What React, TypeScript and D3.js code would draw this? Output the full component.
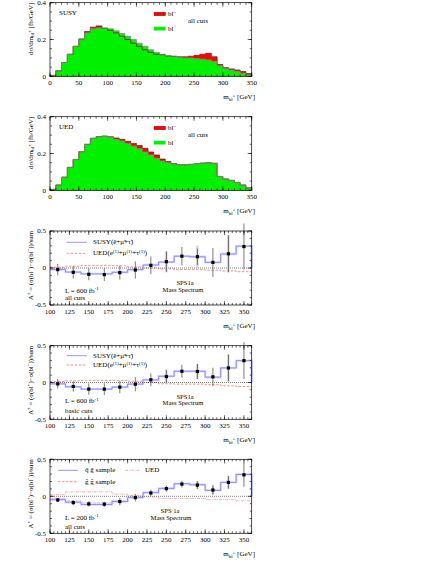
import React from 'react';
import * as d3 from 'd3';

// ---------- data ----------
const histEdges = [0,10,20,30,40,50,60,70,80,90,100,110,120,130,140,150,160,170,180,190,200,210,220,230,240,250,260,270,280,290,300,310,320,330,340];
const susyBlPlus = [0.005,0.03,0.075,0.12,0.163,0.203,0.236,0.258,0.263,0.263,0.258,0.247,0.232,0.217,0.2,0.18,0.163,0.144,0.13,0.12,0.113,0.11,0.104,0.1,0.099,0.096,0.093,0.089,0.08,0.057,0.042,0.034,0.027,0.016,0.008];
const susyBlMinus = [0.005,0.03,0.075,0.12,0.163,0.203,0.243,0.267,0.274,0.261,0.25,0.236,0.217,0.2,0.18,0.163,0.144,0.13,0.12,0.117,0.111,0.108,0.106,0.106,0.109,0.114,0.12,0.125,0.106,0.064,0.047,0.04,0.034,0.026,0.015];
const uedBlPlus = [0.005,0.029,0.07,0.123,0.167,0.21,0.25,0.282,0.291,0.293,0.288,0.277,0.268,0.255,0.24,0.226,0.208,0.192,0.174,0.159,0.15,0.143,0.139,0.139,0.141,0.145,0.148,0.15,0.147,0.075,0.062,0.054,0.043,0.029,0.014];
const uedBlMinus = [0.005,0.029,0.072,0.125,0.168,0.21,0.25,0.283,0.292,0.295,0.291,0.284,0.277,0.266,0.255,0.243,0.228,0.208,0.192,0.17,0.156,0.145,0.139,0.139,0.141,0.145,0.148,0.15,0.147,0.075,0.062,0.054,0.043,0.029,0.014];
const histTicks = [0,50,100,150,200,250,300,350];
const histYTicks = [0,0.2,0.4];

const asymEdges = [100,120,140,160,180,200,220,240,260,280,300,320,340];
const asymCenters = [110,130,150,170,190,210,230,250,270,290,310,330,350];
const asymTicks = [100,125,150,175,200,225,250,275,300,325,350];
const asymYTicks = [-0.5,0,0.5];

// panel 3: all cuts, L = 600
const p3Points = [-0.022,-0.058,-0.085,-0.089,-0.062,-0.027,0.036,0.085,0.16,0.152,0.076,0.192,0.29];
const p3Err = [0.078,0.083,0.08,0.085,0.094,0.116,0.12,0.136,0.125,0.11,0.194,0.25,0.31];
const p3Grey = [0,0,0,0,0,0,0,0.145,0,0.152,0,0.25,0];
const p3Susy = [-0.02,-0.055,-0.08,-0.08,-0.058,-0.022,0.04,0.08,0.16,0.152,0.076,0.19,0.295];
const p3Ued = [0.01,0.025,0.035,0.035,0.03,0.015,0.0,-0.012,-0.02,-0.022,-0.03,-0.04,-0.05];

// panel 4: basic cuts, L = 600
const p4Points = [-0.018,-0.054,-0.09,-0.09,-0.063,-0.023,0.036,0.081,0.153,0.149,0.077,0.198,0.297];
const p4Err = [0.065,0.07,0.077,0.079,0.083,0.097,0.088,0.088,0.088,0.1,0.124,0.18,0.25];
const p4Grey = [0,0,0,0,0,0,0,0.095,0,0.105,0,0.185,0];
const p4Susy = [-0.018,-0.058,-0.09,-0.09,-0.063,-0.022,0.036,0.085,0.153,0.153,0.072,0.198,0.297];
const p4Ued = [0.013,0.022,0.03,0.03,0.03,0.018,0.0,-0.018,-0.022,-0.022,-0.03,-0.045,-0.054];

// panel 5: all cuts, L = 200
const p5Points = [-0.05,-0.085,-0.103,-0.107,-0.071,-0.018,0.045,0.103,0.165,0.152,0.085,0.188,0.29];
const p5Err = [0.03,0.035,0.035,0.035,0.05,0.05,0.045,0.04,0.045,0.05,0.06,0.085,0.16];
const p5Grey = [0,0,0,0,0,0,0,0,0,0.055,0.065,0.085,0];
const p5Qg = [-0.045,-0.08,-0.11,-0.11,-0.071,-0.018,0.05,0.107,0.17,0.156,0.08,0.188,0.295];
const p5Gg = [-0.027,-0.063,-0.09,-0.09,-0.058,-0.01,0.054,0.1,0.16,0.152,0.09,0.19,0.3];
const p5Ued = [0.022,0.06,0.06,0.06,0.03,0.01,-0.01,-0.03,-0.03,-0.03,-0.045,-0.045,-0.06];

// ---------- styling ----------
const FONT = "'Liberation Serif', 'Times New Roman', serif";
const XL = 50;
const XR = 251.7;
const BLUE = '#7878ff';
const BLUE_BAND = '#dcdcff';
const RED_DASH = '#ff7070';
const UED_DOT = '#ff9a9a';

function Frame({ x, y, xTicks, xMinor, yTicks, yMinor, fmtY }: any) {
  const [top, bottom] = [y.range()[1], y.range()[0]];
  const major = 4, minor = 2;
  const els: any[] = [];
  xMinor.forEach((v: number, i: number) => {
    const px = x(v);
    els.push(<line key={'xm' + i} x1={px} x2={px} y1={bottom} y2={bottom - minor} stroke="#000" strokeWidth={0.6} />);
    els.push(<line key={'xmt' + i} x1={px} x2={px} y1={top} y2={top + minor} stroke="#000" strokeWidth={0.6} />);
  });
  xTicks.forEach((v: number, i: number) => {
    const px = x(v);
    els.push(<line key={'xM' + i} x1={px} x2={px} y1={bottom} y2={bottom - major} stroke="#000" strokeWidth={0.6} />);
    els.push(<line key={'xMt' + i} x1={px} x2={px} y1={top} y2={top + major} stroke="#000" strokeWidth={0.6} />);
    els.push(<text key={'xl' + i} x={px} y={bottom + 9} fontSize={7} textAnchor="middle" fontFamily={FONT}>{v}</text>);
  });
  yMinor.forEach((v: number, i: number) => {
    const py = y(v);
    els.push(<line key={'ym' + i} x1={XL} x2={XL + minor} y1={py} y2={py} stroke="#000" strokeWidth={0.6} />);
    els.push(<line key={'ymr' + i} x1={XR} x2={XR - minor} y1={py} y2={py} stroke="#000" strokeWidth={0.6} />);
  });
  yTicks.forEach((v: number, i: number) => {
    const py = y(v);
    els.push(<line key={'yM' + i} x1={XL} x2={XL + major} y1={py} y2={py} stroke="#000" strokeWidth={0.6} />);
    els.push(<line key={'yMr' + i} x1={XR} x2={XR - major} y1={py} y2={py} stroke="#000" strokeWidth={0.6} />);
    els.push(<text key={'yl' + i} x={46} y={py + 2.4} fontSize={7} textAnchor="end" fontFamily={FONT}>{fmtY(v)}</text>);
  });
  return (
    <g>
      {els}
      <rect x={XL} y={top} width={XR - XL} height={bottom - top} fill="none" stroke="#000" strokeWidth={0.7} />
      <text x={255} y={bottom + 23} fontSize={7} textAnchor="end" fontFamily={FONT}>
        m<tspan fontSize={5} dy={1.5}>bl</tspan><tspan fontSize={5} dy={-3.5}>±</tspan><tspan dy={2}> [GeV]</tspan>
      </text>
    </g>
  );
}

function HistPanel({ top, bottom, title, plus, minus }: any) {
  const x = d3.scaleLinear().domain([0, 350]).range([XL, XR]);
  const y = d3.scaleLinear().domain([0, 0.4]).range([bottom, top]);
  const pts = (vals: number[]) => [[0, 0], ...histEdges.map((e, i) => [e, vals[i]]), [350, vals[vals.length - 1]], [350, 0]];
  const area = d3.area<number[]>().x(d => x(d[0])).y0(y(0)).y1(d => y(d[1])).curve(d3.curveStepAfter);
  const line = d3.line<number[]>().x(d => x(d[0])).y(d => y(d[1])).curve(d3.curveStepAfter);
  const xMinor = d3.range(0, 351, 10);
  const yMinor = d3.range(0, 0.401, 0.05);
  return (
    <g>
      <path d={area(pts(minus)) || ''} fill="#ff0000" />
      <path d={area(pts(plus)) || ''} fill="#00f000" />
      <path d={line(pts(minus)) || ''} fill="none" stroke="#6a2a1a" strokeWidth={0.8} />
      <path d={line(pts(plus)) || ''} fill="none" stroke="#8a8a8a" strokeWidth={0.8} />
      <Frame x={x} y={y} xTicks={histTicks} xMinor={xMinor} yTicks={histYTicks} yMinor={yMinor} fmtY={(v: number) => (v === 0 ? '0' : v.toFixed(1))} />
      <text x={59} y={top + 10} fontSize={7} fontFamily={FONT} dominantBaseline="central">{title}</text>
      <rect x={154} y={top + 9.5} width={11.5} height={3.6} fill="#ff0000" stroke="#7a1010" strokeWidth={0.4} />
      <text x={168} y={top + 11.3} fontSize={7} fontFamily={FONT} dominantBaseline="central">bl<tspan fontSize={5} dy={-2.5}>−</tspan></text>
      <rect x={154} y={top + 24} width={11.5} height={3.8} fill="#00f000" />
      <text x={168} y={top + 25.8} fontSize={7} fontFamily={FONT} dominantBaseline="central">bl<tspan fontSize={5} dy={-2.5}>+</tspan></text>
      <text x={188} y={top + 18.2} fontSize={7} fontFamily={FONT} dominantBaseline="central">all cuts</text>
      <text transform={`translate(32.5, ${top}) rotate(-90)`} fontSize={7} textAnchor="end" fontFamily={FONT}>
        dσ/dm<tspan fontSize={5} dy={1.5}>bl</tspan><tspan fontSize={5} dy={-3.5}>±</tspan><tspan dy={2}> [fb/GeV]</tspan>
      </text>
    </g>
  );
}

function stepPts(vals: number[]) {
  return [...asymEdges.map((e, i) => [e, vals[i]]), [360, vals[vals.length - 1]]];
}

function AsymPanel({ top, bottom, points, err, grey, lines, children }: any) {
  const x = d3.scaleLinear().domain([100, 360]).range([XL, XR]);
  const y = d3.scaleLinear().domain([-0.5, 0.5]).range([bottom, top]);
  const line = d3.line<number[]>().x(d => x(d[0])).y(d => y(d[1])).curve(d3.curveStepAfter);
  const xMinor = d3.range(100, 361, 5);
  const yMinor = d3.range(-0.5, 0.501, 0.1);
  return (
    <g>
      {lines.map((l: any, i: number) => {
        const p = l.dropEnd ? [...stepPts(l.vals), [360, 0]] : stepPts(l.vals);
        return (
          <g key={i}>
            {l.band && <path d={line(p) || ''} fill="none" stroke={BLUE_BAND} strokeWidth={2.4} />}
            <path d={line(p) || ''} fill="none" stroke={l.color} strokeWidth={l.width || 0.8} strokeDasharray={l.dash || undefined} />
          </g>
        );
      })}
      <line x1={XL} x2={XR} y1={y(0)} y2={y(0)} stroke="#000" strokeWidth={0.6} strokeDasharray="0.8,1.2" />
      {asymCenters.map((c, i) => grey[i] > 0 ? (
        <line key={'g' + i} x1={x(c)} x2={x(c)} y1={y(points[i] - grey[i])} y2={y(points[i] + grey[i])} stroke="#d2d2d2" strokeWidth={2.2} />
      ) : null)}
      {asymCenters.map((c, i) => (
        <line key={'e' + i} x1={x(c)} x2={x(c)} y1={y(points[i] - err[i])} y2={y(points[i] + err[i])} stroke="#222" strokeWidth={0.6} />
      ))}
      {asymCenters.map((c, i) => (
        <rect key={'p' + i} x={x(c) - 1.6} y={y(points[i]) - 1.6} width={3.2} height={3.2} fill="#000" />
      ))}
      <Frame x={x} y={y} xTicks={asymTicks} xMinor={xMinor} yTicks={asymYTicks} yMinor={yMinor} fmtY={(v: number) => (v === 0 ? '0' : v.toFixed(1))} />
      <text transform={`translate(32.5, ${top}) rotate(-90)`} fontSize={6.8} textAnchor="end" fontFamily={FONT}>
        A<tspan fontSize={5} dy={-3}>±</tspan><tspan dy={3}> = (σ(bl</tspan><tspan fontSize={5} dy={-3}>+</tspan><tspan dy={3}>)−σ(bl</tspan><tspan fontSize={5} dy={-3}>−</tspan><tspan dy={3}>))/sum</tspan>
      </text>
      {children}
    </g>
  );
}

function T({ x, y, children, anchor, size }: any) {
  return <text x={x} y={y} fontSize={size || 7} fontFamily={FONT} dominantBaseline="central" textAnchor={anchor || 'start'}>{children}</text>;
}

function SusyUedLegend({ top, y1, y2 }: any) {
  return (
    <g>
      <line x1={66.7} x2={86.7} y1={top + y1} y2={top + y1} stroke={BLUE} strokeWidth={0.8} />
      <T x={93} y={top + y1}>SUSY(e&#771;+μ&#771;+τ&#771;)</T>
      <line x1={66.7} x2={86.7} y1={top + y2} y2={top + y2} stroke={RED_DASH} strokeWidth={0.8} strokeDasharray="2.5,1.5" />
      <T x={93} y={top + y2}>UED(e<tspan fontSize={5} dy={-2.5}>(1)</tspan><tspan dy={2.5}>+μ</tspan><tspan fontSize={5} dy={-2.5}>(1)</tspan><tspan dy={2.5}>+τ</tspan><tspan fontSize={5} dy={-2.5}>(1)</tspan><tspan dy={2.5}>)</tspan></T>
    </g>
  );
}

export default function App() {
  const t3 = 231, b3 = 305;
  const t4 = 345.7, b4 = 419.3;
  const t5 = 459.3, b5 = 533.3;
  return (
    <svg width={436} height={564} style={{ position: 'absolute', left: 0, top: 0, background: '#fff' }}>
      <rect x={0} y={0} width={436} height={564} fill="#fff" />
      <HistPanel top={2.7} bottom={76.3} title="SUSY" plus={susyBlPlus} minus={susyBlMinus} />
      <HistPanel top={116.7} bottom={190.3} title="UED" plus={uedBlPlus} minus={uedBlMinus} />

      <AsymPanel top={t3} bottom={b3} points={p3Points} err={p3Err} grey={p3Grey}
        lines={[{ vals: p3Ued, color: RED_DASH, dash: '2.5,1.5' }, { vals: p3Susy, color: BLUE, band: true, dropEnd: true }]}>
        <SusyUedLegend top={t3} y1={11.3} y2={22.3} />
        <T x={65} y={t3 + 59.7}>L = 600 fb<tspan fontSize={5} dy={-2.5}>-1</tspan></T>
        <T x={65} y={t3 + 67.2}>all cuts</T>
        <T x={185} y={t3 + 51.8} anchor="middle" size={6.6}>SPS1a</T>
        <T x={183} y={t3 + 58.6} anchor="middle" size={6.6}>Mass Spectrum</T>
      </AsymPanel>

      <AsymPanel top={t4} bottom={b4} points={p4Points} err={p4Err} grey={p4Grey}
        lines={[{ vals: p4Ued, color: RED_DASH, dash: '2.5,1.5' }, { vals: p4Susy, color: BLUE, band: true, dropEnd: true }]}>
        <SusyUedLegend top={t4} y1={10} y2={19.3} />
        <T x={65} y={t4 + 55.6}>L = 600 fb<tspan fontSize={5} dy={-2.5}>-1</tspan></T>
        <T x={65} y={t4 + 65}>basic cuts</T>
        <T x={185} y={t4 + 50.3} anchor="middle" size={6.6}>SPS1a</T>
        <T x={183} y={t4 + 57.1} anchor="middle" size={6.6}>Mass Spectrum</T>
      </AsymPanel>

      <AsymPanel top={t5} bottom={b5} points={p5Points} err={p5Err} grey={p5Grey}
        lines={[{ vals: p5Ued, color: UED_DOT, dash: '3,1,0.8,1' }, { vals: p5Gg, color: RED_DASH, dash: '2.5,1.5' }, { vals: p5Qg, color: BLUE, band: true, dropEnd: true }]}>
        <line x1={58} x2={78} y1={t5 + 11} y2={t5 + 11} stroke={BLUE} strokeWidth={0.8} />
        <T x={85} y={t5 + 11}>q&#771; g&#771; sample</T>
        <line x1={58} x2={78} y1={t5 + 22.4} y2={t5 + 22.4} stroke={RED_DASH} strokeWidth={0.8} strokeDasharray="2.5,1.5" />
        <T x={85} y={t5 + 22.4}>g&#771; g&#771; sample</T>
        <line x1={125} x2={140} y1={t5 + 11} y2={t5 + 11} stroke={UED_DOT} strokeWidth={0.8} strokeDasharray="3,1,0.8,1" />
        <T x={145} y={t5 + 11}>UED</T>
        <T x={65} y={t5 + 58.4}>L = 200 fb<tspan fontSize={5} dy={-2.5}>-1</tspan></T>
        <T x={65} y={t5 + 67.4}>all cuts</T>
        <T x={170} y={t5 + 51.5} anchor="middle" size={6.6}>SPS 1a</T>
        <T x={171} y={t5 + 58.4} anchor="middle" size={6.6}>Mass Spectrum</T>
      </AsymPanel>
    </svg>
  );
}
